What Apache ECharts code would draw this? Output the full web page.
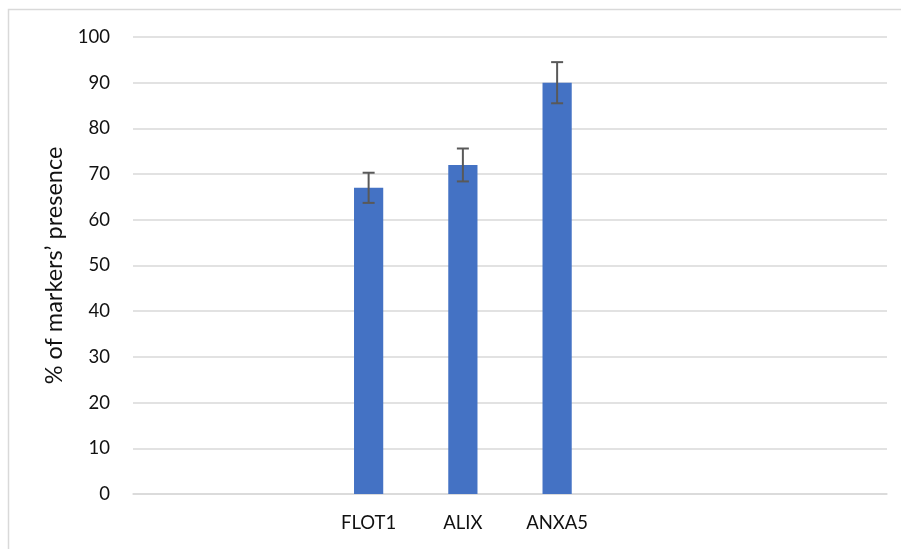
<!DOCTYPE html>
<html>
<head>
<meta charset="utf-8">
<script src="https://cdn.jsdelivr.net/npm/echarts@6/dist/echarts.min.js"></script>
<style>html,body{margin:0;padding:0;background:#fff;}#c{width:901px;height:549px;}</style>
</head>
<body>
<div id="c"></div>
<script>
const categories = ["", " ", "FLOT1", "ALIX", "ANXA5", "  ", "   ", "    "];
const values = [null, null, 67, 72, 90, null, null, null];
const errors = [null, null, 3.3, 3.6, 4.5, null, null, null];
const yTicks = {min: 0, max: 100, interval: 10};
const axisName = "% of markers’ presence";

const errData = [];
values.forEach((v, i) => { if (v != null) errData.push([i, v - errors[i], v + errors[i]]); });

const chart = echarts.init(document.getElementById('c'), null, {renderer: 'canvas'});
chart.setOption({
  animation: false,
  backgroundColor: '#fff',
  graphic: [{
    type: 'polyline', silent: true,
    shape: {points: [[8.5, 560], [8.5, 9.5], [910, 9.5]]},
    style: {stroke: '#d9d9d9', lineWidth: 1.5, fill: null}
  }],
  grid: {left: 133, right: 14, top: 37, bottom: 55, containLabel: false},
  xAxis: {
    type: 'category', data: categories,
    axisLine: {show: true, lineStyle: {color: '#d9d9d9', width: 1.5}},
    axisTick: {show: false},
    axisLabel: {color: '#111', fontFamily: 'Lato', fontSize: 18.5, margin: 20, interval: 0}
  },
  yAxis: {
    type: 'value', min: yTicks.min, max: yTicks.max, interval: yTicks.interval,
    name: axisName, nameLocation: 'middle', nameGap: 62, nameRotate: 90,
    nameTextStyle: {color: '#111', fontFamily: 'Lato', fontSize: 23.5},
    axisLine: {show: false}, axisTick: {show: false},
    axisLabel: {color: '#111', fontFamily: 'Lato', fontSize: 18.5, margin: 23},
    splitLine: {lineStyle: {color: '#d9d9d9', width: 1.5}}
  },
  series: [{
    type: 'bar', data: values, barWidth: '31%',
    itemStyle: {color: '#4472c4'}
  }, {
    type: 'custom', data: errData, z: 10,
    renderItem: function (params, api) {
      const x = api.value(0);
      const lo = api.coord([x, api.value(1)]);
      const hi = api.coord([x, api.value(2)]);
      const hw = 6;
      const st = {stroke: '#595959', lineWidth: 2};
      return {type: 'group', children: [
        {type: 'line', shape: {x1: lo[0], y1: lo[1], x2: hi[0], y2: hi[1]}, style: st},
        {type: 'line', shape: {x1: lo[0] - hw, y1: lo[1], x2: lo[0] + hw, y2: lo[1]}, style: st},
        {type: 'line', shape: {x1: hi[0] - hw, y1: hi[1], x2: hi[0] + hw, y2: hi[1]}, style: st}
      ]};
    }
  }]
});
</script>
</body>
</html>
